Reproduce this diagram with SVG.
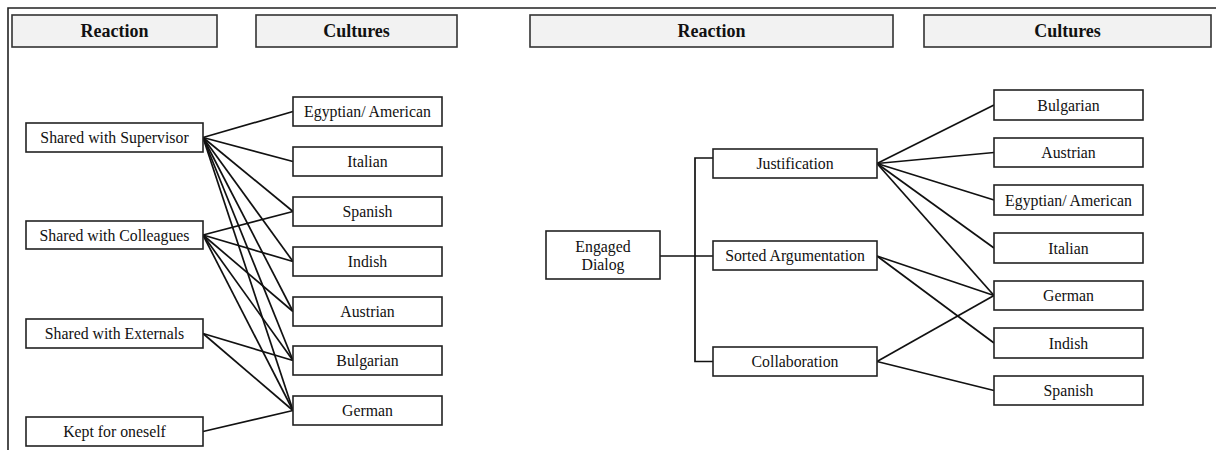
<svg xmlns="http://www.w3.org/2000/svg" width="1216" height="450" viewBox="0 0 1216 450">
<style>
.hdr{fill:#f2f2f2;stroke:#333;stroke-width:1.6}
.box{fill:#fff;stroke:#222;stroke-width:1.6}
.ht{font-family:"Liberation Serif","Times New Roman",serif;font-weight:bold;font-size:18px;fill:#111;text-anchor:middle}
.t{font-family:"Liberation Serif","Times New Roman",serif;font-size:15.8px;fill:#111;text-anchor:middle}
.c line,.c polyline{stroke:#111;stroke-width:1.7;fill:none}
</style>
<rect width="1216" height="450" fill="#fff"/>
<path d="M8,450 V8 H1216" fill="none" stroke="#222" stroke-width="1.6"/>
<g id="h1"><rect class="hdr" x="12" y="15" width="205" height="32"/><text class="ht" x="114.5" y="37">Reaction</text></g>
<g id="h2"><rect class="hdr" x="256" y="15" width="201" height="32"/><text class="ht" x="356.5" y="37">Cultures</text></g>
<g id="h3"><rect class="hdr" x="530" y="15" width="363" height="32"/><text class="ht" x="711.5" y="37">Reaction</text></g>
<g id="h4"><rect class="hdr" x="924" y="15" width="287" height="32"/><text class="ht" x="1067.5" y="37">Cultures</text></g>
<g class="c" id="connectors">
<line x1="203" y1="137.5" x2="293" y2="111.5"/>
<line x1="203" y1="137.5" x2="293" y2="161.5"/>
<line x1="203" y1="137.5" x2="293" y2="211.5"/>
<line x1="203" y1="137.5" x2="293" y2="261.5"/>
<line x1="203" y1="137.5" x2="293" y2="311.5"/>
<line x1="203" y1="137.5" x2="293" y2="360.5"/>
<line x1="203" y1="137.5" x2="293" y2="410.5"/>
<line x1="203" y1="235" x2="293" y2="211.5"/>
<line x1="203" y1="235" x2="293" y2="261.5"/>
<line x1="203" y1="235" x2="293" y2="311.5"/>
<line x1="203" y1="235" x2="293" y2="360.5"/>
<line x1="203" y1="235" x2="293" y2="410.5"/>
<line x1="203" y1="333.5" x2="293" y2="360.5"/>
<line x1="203" y1="333.5" x2="293" y2="410.5"/>
<line x1="203" y1="431.5" x2="293" y2="410.5"/>
<line x1="660" y1="256" x2="713" y2="256"/>
<polyline points="713,158 695,158 695,361.5 713,361.5"/>
<line x1="877" y1="163.5" x2="994" y2="105"/>
<line x1="877" y1="163.5" x2="994" y2="152.5"/>
<line x1="877" y1="163.5" x2="994" y2="200"/>
<line x1="877" y1="163.5" x2="994" y2="248"/>
<line x1="877" y1="163.5" x2="994" y2="295.5"/>
<line x1="877" y1="256" x2="994" y2="295.5"/>
<line x1="877" y1="256" x2="994" y2="343"/>
<line x1="877" y1="361.5" x2="994" y2="295.5"/>
<line x1="877" y1="361.5" x2="994" y2="390.5"/>
</g>
<g id="supervisor"><rect class="box" x="26" y="123" width="177" height="29"/><text class="t" x="114.5" y="143">Shared with Supervisor</text></g>
<g id="colleagues"><rect class="box" x="26" y="221" width="177" height="28"/><text class="t" x="114.5" y="240.5">Shared with Colleagues</text></g>
<g id="externals"><rect class="box" x="26" y="319" width="177" height="29"/><text class="t" x="114.5" y="339">Shared with Externals</text></g>
<g id="kept"><rect class="box" x="26" y="417" width="177" height="29"/><text class="t" x="114.5" y="437">Kept for oneself</text></g>
<g id="l-egyptian"><rect class="box" x="293" y="97" width="149" height="29"/><text class="t" x="367.5" y="117">Egyptian/ American</text></g>
<g id="l-italian"><rect class="box" x="293" y="147" width="149" height="29"/><text class="t" x="367.5" y="167">Italian</text></g>
<g id="l-spanish"><rect class="box" x="293" y="197" width="149" height="29"/><text class="t" x="367.5" y="217">Spanish</text></g>
<g id="l-indish"><rect class="box" x="293" y="247" width="149" height="29"/><text class="t" x="367.5" y="267">Indish</text></g>
<g id="l-austrian"><rect class="box" x="293" y="297" width="149" height="29"/><text class="t" x="367.5" y="317">Austrian</text></g>
<g id="l-bulgarian"><rect class="box" x="293" y="346" width="149" height="29"/><text class="t" x="367.5" y="366">Bulgarian</text></g>
<g id="l-german"><rect class="box" x="293" y="396" width="149" height="29"/><text class="t" x="367.5" y="416">German</text></g>
<g id="engaged"><rect class="box" x="546" y="231" width="114" height="48"/><text class="t" x="603" y="251.5">Engaged</text><text class="t" x="603" y="269.5">Dialog</text></g>
<g id="justification"><rect class="box" x="713" y="149" width="164" height="29"/><text class="t" x="795" y="169">Justification</text></g>
<g id="sorted"><rect class="box" x="713" y="241" width="164" height="29"/><text class="t" x="795" y="261">Sorted Argumentation</text></g>
<g id="collaboration"><rect class="box" x="713" y="347" width="164" height="29"/><text class="t" x="795" y="367">Collaboration</text></g>
<g id="r-bulgarian"><rect class="box" x="994" y="90" width="149" height="30"/><text class="t" x="1068.5" y="110.5">Bulgarian</text></g>
<g id="r-austrian"><rect class="box" x="994" y="138" width="149" height="29"/><text class="t" x="1068.5" y="158">Austrian</text></g>
<g id="r-egyptian"><rect class="box" x="994" y="185" width="149" height="30"/><text class="t" x="1068.5" y="205.5">Egyptian/ American</text></g>
<g id="r-italian"><rect class="box" x="994" y="233" width="149" height="30"/><text class="t" x="1068.5" y="253.5">Italian</text></g>
<g id="r-german"><rect class="box" x="994" y="281" width="149" height="29"/><text class="t" x="1068.5" y="301">German</text></g>
<g id="r-indish"><rect class="box" x="994" y="328" width="149" height="30"/><text class="t" x="1068.5" y="348.5">Indish</text></g>
<g id="r-spanish"><rect class="box" x="994" y="376" width="149" height="29"/><text class="t" x="1068.5" y="396">Spanish</text></g>
</svg>
